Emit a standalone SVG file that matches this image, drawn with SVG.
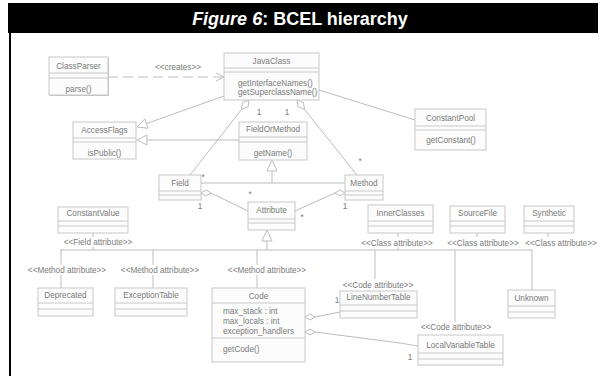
<svg xmlns="http://www.w3.org/2000/svg" width="602" height="376" viewBox="0 0 602 376">
<style>
.bx{fill:#fcfcfc;stroke:#c8c8c8;stroke-width:1}
.dv{stroke:#c8c8c8;stroke-width:1}
.ln{stroke:#bcbcbc;stroke-width:1;fill:none}
.hd{fill:#fff;stroke:#bcbcbc;stroke-width:1}
.t{font-family:"Liberation Sans",Arial,sans-serif;font-size:8.2px;fill:#7a7a7a}
.c{text-anchor:middle}
.ti{font-family:"Liberation Sans",Arial,sans-serif;font-size:18px;font-weight:bold;fill:#fff;text-anchor:middle}
</style>
<rect width="602" height="376" fill="#fff"/>
<rect x="8" y="3" width="590" height="30" fill="#000"/>
<text class="ti" x="300" y="25"><tspan font-style="italic">Figure 6</tspan>: BCEL hierarchy</text>
<rect x="9" y="33" width="2" height="343" fill="#000"/>

<g id="connectors">
  <line class="ln" x1="108" y1="77" x2="223" y2="77" stroke-dasharray="10,5"/>
  <polyline class="ln" points="216,73 224,77 216,81"/>
  <line class="ln" x1="224" y1="96" x2="146.4" y2="123.6"/>
  <polygon class="hd" points="137,127 148.1,128.3 144.7,118.9"/>
  <line class="ln" x1="239" y1="140" x2="147" y2="140"/>
  <polygon class="hd" points="137,140 147,135 147,145"/>
  <line class="ln" x1="319" y1="90" x2="415" y2="120"/>
  <line class="ln" x1="241.6" y1="109.4" x2="190" y2="175"/>
  <polygon class="hd" points="249,100 248.05,106.86 241.6,109.4 242.55,102.54"/>
  <line class="ln" x1="304.5" y1="109.4" x2="357" y2="175"/>
  <polygon class="hd" points="297,100 303.5,102.5 304.5,109.4 298,106.9"/>
  <line class="ln" x1="201" y1="183" x2="345" y2="183"/>
  <line class="ln" x1="272" y1="171" x2="272" y2="183"/>
  <polygon class="hd" points="272,160 267,171 277,171"/>
  <line class="ln" x1="211" y1="193" x2="248" y2="211"/>
  <polygon class="hd" points="201,193 206,190 211,193 206,196"/>
  <line class="ln" x1="335" y1="193" x2="295" y2="211"/>
  <polygon class="hd" points="345,193 340,190 335,193 340,196"/>
  <line class="ln" x1="267" y1="241" x2="267" y2="250"/>
  <polygon class="hd" points="267,230 262,241 272,241"/>
  <line class="ln" x1="60" y1="250" x2="532" y2="250"/>
  <line class="ln" x1="93" y1="233" x2="93" y2="237"/>
  <line class="ln" x1="93" y1="247" x2="93" y2="250"/>
  <line class="ln" x1="398" y1="233" x2="398" y2="237"/>
  <line class="ln" x1="398" y1="247" x2="398" y2="250"/>
  <line class="ln" x1="477" y1="233" x2="477" y2="237"/>
  <line class="ln" x1="548" y1="233" x2="548" y2="237"/>
  <line class="ln" x1="61" y1="250" x2="61" y2="265"/>
  <line class="ln" x1="61" y1="275" x2="61" y2="288"/>
  <line class="ln" x1="153" y1="250" x2="153" y2="265"/>
  <line class="ln" x1="153" y1="275" x2="153" y2="288"/>
  <line class="ln" x1="257" y1="250" x2="257" y2="265"/>
  <line class="ln" x1="257" y1="275" x2="257" y2="288"/>
  <line class="ln" x1="375" y1="250" x2="375" y2="279"/>
  <line class="ln" x1="455" y1="250" x2="455" y2="322"/>
  <line class="ln" x1="532" y1="250" x2="532" y2="290"/>
  <line class="ln" x1="315" y1="317" x2="340" y2="312"/>
  <polygon class="hd" points="305,317 310,314 315,317 310,320"/>
  <polyline class="ln" points="315,332 400,343 418,346"/>
  <polygon class="hd" points="305,332 310,329 315,332 310,335"/>
  <text class="t c" x="178" y="70">&lt;&lt;creates&gt;&gt;</text>
  <text class="t c" x="259" y="115">1</text>
  <text class="t c" x="287" y="115">1</text>
  <text class="t c" x="203" y="180">*</text>
  <text class="t c" x="200" y="209">1</text>
  <text class="t c" x="250" y="197">*</text>
  <text class="t c" x="302" y="220">*</text>
  <text class="t c" x="345" y="209">1</text>
  <text class="t c" x="360" y="164">*</text>
  <text class="t c" x="337" y="303">1</text>
  <text class="t c" x="410" y="360">1</text>
  <text class="t c" x="98" y="245">&lt;&lt;Field attribute&gt;&gt;</text>
  <text class="t c" x="67" y="273">&lt;&lt;Method attribute&gt;&gt;</text>
  <text class="t c" x="160" y="273">&lt;&lt;Method attribute&gt;&gt;</text>
  <text class="t c" x="267" y="273">&lt;&lt;Method attribute&gt;&gt;</text>
  <text class="t c" x="397" y="246">&lt;&lt;Class attribute&gt;&gt;</text>
  <text class="t c" x="483" y="246">&lt;&lt;Class attribute&gt;&gt;</text>
  <text class="t c" x="561" y="246">&lt;&lt;Class attribute&gt;&gt;</text>
  <text class="t c" x="378" y="288">&lt;&lt;Code attribute&gt;&gt;</text>
  <text class="t c" x="456" y="330">&lt;&lt;Code attribute&gt;&gt;</text>
</g>

<g id="ClassParser">
  <rect x="50" y="58" width="59" height="38" fill="#c4c4c4"/>
  <rect class="bx" x="49" y="57" width="59" height="38"/>
  <line class="dv" x1="49" y1="73" x2="108" y2="73"/><line class="dv" x1="49" y1="78" x2="108" y2="78"/>
  <text class="t c" x="78.5" y="69">ClassParser</text>
  <text class="t c" x="78.5" y="92">parse()</text>
</g>
<g id="JavaClass">
  <rect class="bx" x="224" y="53" width="95" height="47"/>
  <line class="dv" x1="224" y1="68" x2="319" y2="68"/><line class="dv" x1="224" y1="72" x2="319" y2="72"/>
  <text class="t c" x="271.5" y="64">JavaClass</text>
  <text class="t" x="238" y="86">getInterfaceNames()</text>
  <text class="t" x="238" y="95">getSuperclassName()</text>
</g>
<g id="AccessFlags">
  <rect class="bx" x="73" y="122" width="63" height="37"/>
  <line class="dv" x1="73" y1="138" x2="136" y2="138"/><line class="dv" x1="73" y1="142" x2="136" y2="142"/>
  <text class="t c" x="104.5" y="133">AccessFlags</text>
  <text class="t c" x="104.5" y="156">isPublic()</text>
</g>
<g id="FieldOrMethod">
  <rect class="bx" x="239" y="122" width="68" height="38"/>
  <line class="dv" x1="239" y1="137" x2="307" y2="137"/><line class="dv" x1="239" y1="142" x2="307" y2="142"/>
  <text class="t c" x="273" y="132">FieldOrMethod</text>
  <text class="t c" x="273" y="156">getName()</text>
</g>
<g id="ConstantPool">
  <rect class="bx" x="415" y="109" width="71" height="41"/>
  <line class="dv" x1="415" y1="126" x2="486" y2="126"/><line class="dv" x1="415" y1="130" x2="486" y2="130"/>
  <text class="t c" x="450.5" y="121">ConstantPool</text>
  <text class="t c" x="451" y="143">getConstant()</text>
</g>
<g id="Field">
  <rect class="bx" x="159" y="175" width="42" height="25"/>
  <line class="dv" x1="159" y1="191" x2="201" y2="191"/><line class="dv" x1="159" y1="195" x2="201" y2="195"/>
  <text class="t c" x="180" y="186">Field</text>
</g>
<g id="Method">
  <rect class="bx" x="345" y="175" width="38" height="25"/>
  <line class="dv" x1="345" y1="191" x2="383" y2="191"/><line class="dv" x1="345" y1="195" x2="383" y2="195"/>
  <text class="t c" x="364" y="186">Method</text>
</g>
<g id="Attribute">
  <rect class="bx" x="248" y="202" width="47" height="28"/>
  <line class="dv" x1="248" y1="219" x2="295" y2="219"/><line class="dv" x1="248" y1="223" x2="295" y2="223"/>
  <text class="t c" x="271.5" y="213">Attribute</text>
</g>
<g id="ConstantValue">
  <rect class="bx" x="58" y="207" width="70" height="26"/>
  <line class="dv" x1="58" y1="221" x2="128" y2="221"/><line class="dv" x1="58" y1="226" x2="128" y2="226"/>
  <text class="t c" x="93" y="216">ConstantValue</text>
</g>
<g id="InnerClasses">
  <rect class="bx" x="368" y="205" width="65" height="28"/>
  <line class="dv" x1="368" y1="221" x2="433" y2="221"/><line class="dv" x1="368" y1="226" x2="433" y2="226"/>
  <text class="t c" x="400.5" y="216">InnerClasses</text>
</g>
<g id="SourceFile">
  <rect class="bx" x="450" y="206" width="55" height="27"/>
  <line class="dv" x1="450" y1="221" x2="505" y2="221"/><line class="dv" x1="450" y1="226" x2="505" y2="226"/>
  <text class="t c" x="477.5" y="216">SourceFile</text>
</g>
<g id="Synthetic">
  <rect class="bx" x="524" y="206" width="50" height="27"/>
  <line class="dv" x1="524" y1="221" x2="574" y2="221"/><line class="dv" x1="524" y1="226" x2="574" y2="226"/>
  <text class="t c" x="549" y="216">Synthetic</text>
</g>
<g id="Deprecated">
  <rect class="bx" x="38" y="288" width="55" height="28"/>
  <line class="dv" x1="38" y1="303" x2="93" y2="303"/><line class="dv" x1="38" y1="309" x2="93" y2="309"/>
  <text class="t c" x="65.5" y="298">Deprecated</text>
</g>
<g id="ExceptionTable">
  <rect class="bx" x="115" y="288" width="72" height="28"/>
  <line class="dv" x1="115" y1="303" x2="187" y2="303"/><line class="dv" x1="115" y1="309" x2="187" y2="309"/>
  <text class="t c" x="151" y="298">ExceptionTable</text>
</g>
<g id="Code">
  <rect class="bx" x="212" y="288" width="93" height="74"/>
  <line class="dv" x1="212" y1="303" x2="305" y2="303"/><line class="dv" x1="212" y1="338" x2="305" y2="338"/>
  <text class="t c" x="258.5" y="299">Code</text>
  <text class="t" x="223" y="314">max_stack : int</text>
  <text class="t" x="223" y="324">max_locals : int</text>
  <text class="t" x="223" y="334">exception_handlers</text>
  <text class="t" x="223" y="352">getCode()</text>
</g>
<g id="LineNumberTable">
  <rect class="bx" x="340" y="291" width="77" height="27"/>
  <line class="dv" x1="340" y1="305" x2="417" y2="305"/><line class="dv" x1="340" y1="311" x2="417" y2="311"/>
  <text class="t c" x="378.5" y="300">LineNumberTable</text>
</g>
<g id="LocalVariableTable">
  <rect class="bx" x="418" y="335" width="85" height="30"/>
  <line class="dv" x1="418" y1="353" x2="503" y2="353"/><line class="dv" x1="418" y1="359" x2="503" y2="359"/>
  <text class="t c" x="460.5" y="348">LocalVariableTable</text>
</g>
<g id="Unknown">
  <rect class="bx" x="508" y="290" width="47" height="28"/>
  <line class="dv" x1="508" y1="306" x2="555" y2="306"/><line class="dv" x1="508" y1="312" x2="555" y2="312"/>
  <text class="t c" x="531.5" y="301">Unknown</text>
</g>
</svg>
